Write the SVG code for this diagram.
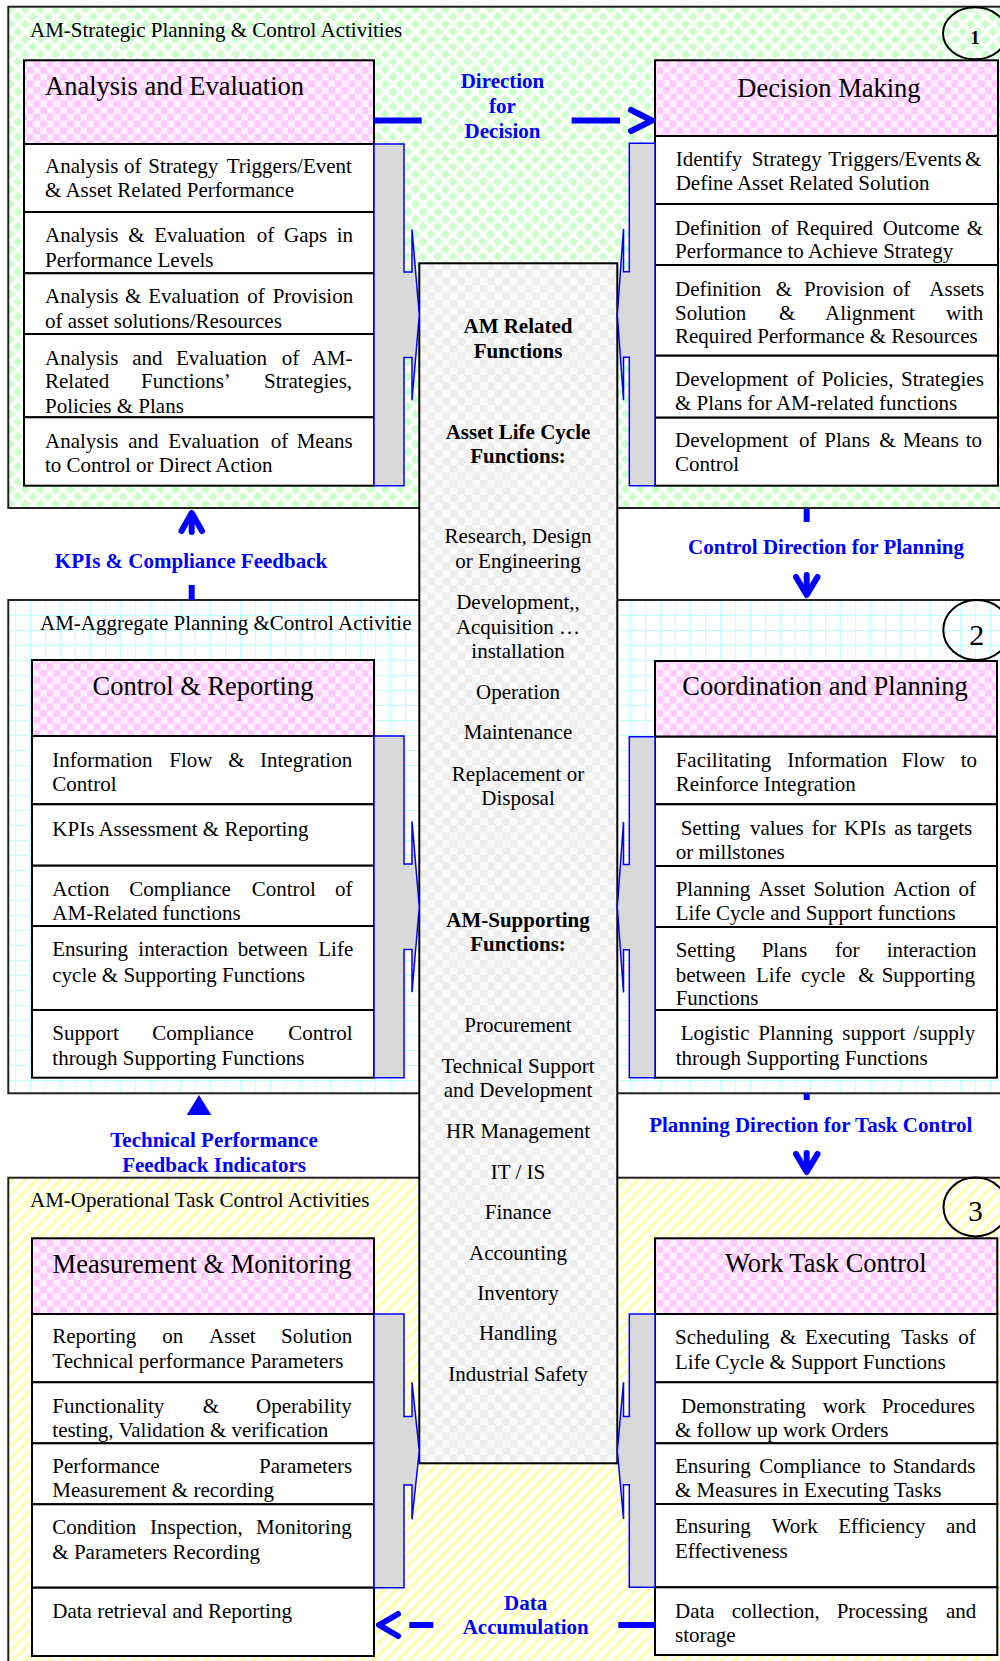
<svg xmlns="http://www.w3.org/2000/svg" width="1000" height="1661" viewBox="0 0 1000 1661">
<style>
.sec{stroke:#222;stroke-width:2}
.box{stroke:#000;stroke-width:2}
.hdr{fill:url(#pPink)}
.row{fill:#fff}
.t{font-family:"Liberation Serif","Times New Roman",serif;font-size:21px;fill:#000}
.h{font-size:26.5px}
.c{text-anchor:middle}
.bd{font-weight:bold}
.bl{fill:#0000ff;font-weight:bold;text-anchor:middle}
.br{fill:#d9d9d9;stroke:#0000ff;stroke-width:1.5}
.arr{stroke:#0000ff;stroke-width:6;fill:none;stroke-linecap:round;stroke-linejoin:round}
.dash{stroke:#0000ff;stroke-width:6;fill:none}
</style>
<defs>
<pattern id="pGreen" width="15" height="15" patternUnits="userSpaceOnUse" x="3" y="1.7">
<rect width="15" height="15" fill="#fff"/>
<path fill="#ccffcc" d="M7.5 2.5L12.5 7.5L7.5 12.5L2.5 7.5Z M0 -5L5 0L0 5L-5 0Z M15 -5L20 0L15 5L10 0Z M0 10L5 15L0 20L-5 15Z M15 10L20 15L15 20L10 15Z"/>
</pattern>
<pattern id="pCyan" width="15" height="15" patternUnits="userSpaceOnUse">
<rect width="15" height="15" fill="#fff"/>
<path d="M0 0.5H15 M0.5 0V15" stroke="#bfffff" stroke-width="1.2"/>
</pattern>
<pattern id="pYellow" width="8.5" height="8.5" patternUnits="userSpaceOnUse" patternTransform="rotate(45)">
<rect width="8.5" height="8.5" fill="#fff"/>
<rect width="3.5" height="8.5" fill="#ffffb0"/>
</pattern>
<pattern id="pPink" width="13.4" height="13.4" patternUnits="userSpaceOnUse">
<rect width="13.4" height="13.4" fill="#fff0ff"/>
<rect width="6.7" height="6.7" fill="#ffc8ff"/>
<rect x="6.7" y="6.7" width="6.7" height="6.7" fill="#ffc8ff"/>
</pattern>
<pattern id="pGrey" width="15" height="15" patternUnits="userSpaceOnUse">
<rect width="15" height="15" fill="#f9f9f9"/>
<rect width="7.5" height="7.5" fill="#ededed"/>
<rect x="7.5" y="7.5" width="7.5" height="7.5" fill="#ededed"/>
</pattern>
</defs>
<rect width="1000" height="1661" fill="#fff"/>

<g id="section-strategic">
<rect class="sec" x="8.3" y="6.7" width="1000" height="501.3" fill="url(#pGreen)"/>
<text class="t" x="30" y="36.7">AM-Strategic Planning &amp; Control Activities</text>
</g>
<g id="section-aggregate">
<rect class="sec" x="8.3" y="600" width="1000" height="493.3" fill="url(#pCyan)"/>
<text class="t" x="40" y="630">AM-Aggregate Planning &amp;Control Activitie</text>
</g>
<g id="section-operational">
<rect class="sec" x="8.3" y="1177.7" width="1000" height="495" fill="url(#pYellow)"/>
<text class="t" x="30" y="1206.7">AM-Operational Task Control Activities</text>
</g>

<g id="am-functions">
<rect x="419.3" y="263.3" width="198" height="1200" fill="url(#pGrey)" stroke="#000" stroke-width="2"/>
<g class="t c">
<text class="bd" x="518" y="333.3">AM Related</text>
<text class="bd" x="518" y="357.7">Functions</text>
<text class="bd" x="518" y="439.3">Asset Life Cycle</text>
<text class="bd" x="518" y="463.3">Functions:</text>
<text x="518" y="543.3">Research, Design</text>
<text x="518" y="568.3">or Engineering</text>
<text x="518" y="609.3">Development,,</text>
<text x="518" y="634.3">Acquisition …</text>
<text x="518" y="658.3">installation</text>
<text x="518" y="699.3">Operation</text>
<text x="518" y="739.3">Maintenance</text>
<text x="518" y="781">Replacement or</text>
<text x="518" y="805">Disposal</text>
<text class="bd" x="518" y="926.7">AM-Supporting</text>
<text class="bd" x="518" y="951">Functions:</text>
<text x="518" y="1031.7">Procurement</text>
<text x="518" y="1072.7">Technical Support</text>
<text x="518" y="1096.7">and Development</text>
<text x="518" y="1138.3">HR Management</text>
<text x="518" y="1179.3">IT / IS</text>
<text x="518" y="1219.3">Finance</text>
<text x="518" y="1260">Accounting</text>
<text x="518" y="1300">Inventory</text>
<text x="518" y="1340">Handling</text>
<text x="518" y="1380.7">Industrial Safety</text>
</g>
</g>

<g id="analysis-evaluation">
<rect class="box hdr" x="24" y="60.3" width="350" height="83.7"/>
<rect class="box row" x="24" y="144" width="350" height="68"/>
<rect class="box row" x="24" y="212" width="350" height="61.3"/>
<rect class="box row" x="24" y="273.3" width="350" height="60.7"/>
<rect class="box row" x="24" y="334" width="350" height="83.3"/>
<rect class="box row" x="24" y="417.3" width="350" height="68.4"/>
<text class="t h" x="45" y="95">Analysis and Evaluation</text>
<text class="t" y="173.3"><tspan x="45">Analysis </tspan><tspan x="124">of </tspan><tspan x="148.3">Strategy </tspan><tspan x="226.7">Triggers/Event</tspan></text>
<text class="t" x="45" y="197.3">&amp; Asset Related Performance</text>
<text class="t" y="241.7"><tspan x="45">Analysis </tspan><tspan x="128.3">&amp; </tspan><tspan x="154.3">Evaluation </tspan><tspan x="256.7">of </tspan><tspan x="284">Gaps </tspan><tspan x="336.7">in</tspan></text>
<text class="t" x="45" y="266.7">Performance Levels</text>
<text class="t" y="303.3"><tspan x="45">Analysis </tspan><tspan x="125">&amp; </tspan><tspan x="148.3">Evaluation </tspan><tspan x="247.3">of </tspan><tspan x="272.7">Provision</tspan></text>
<text class="t" x="45" y="328.3">of asset solutions/Resources</text>
<text class="t" y="365"><tspan x="45">Analysis </tspan><tspan x="132.3">and </tspan><tspan x="176">Evaluation </tspan><tspan x="281.7">of </tspan><tspan x="311.7">AM-</tspan></text>
<text class="t" y="388.3"><tspan x="45">Related </tspan><tspan x="141">Functions’ </tspan><tspan x="264">Strategies,</tspan></text>
<text class="t" x="45" y="413.3">Policies &amp; Plans</text>
<text class="t" y="448.3"><tspan x="45">Analysis </tspan><tspan x="128.3">and </tspan><tspan x="168.3">Evaluation </tspan><tspan x="270.7">of </tspan><tspan x="296.7">Means</tspan></text>
<text class="t" x="45" y="471.7">to Control or Direct Action</text>
<path class="br" d="M374 144 H404 V272.1 H412 V229.4 L419.3 314.85 L412 400.3 V357.6 H404 V485.7 H374 Z"/>
</g>

<g id="decision-making">
<rect class="box hdr" x="655" y="60.3" width="343" height="75.7"/>
<rect class="box row" x="655" y="136" width="343" height="68"/>
<rect class="box row" x="655" y="204" width="343" height="61"/>
<rect class="box row" x="655" y="265" width="343" height="90.7"/>
<rect class="box row" x="655" y="355.7" width="343" height="62"/>
<rect class="box row" x="655" y="417.7" width="343" height="68"/>
<text class="t h c" x="829" y="96.7">Decision Making</text>
<text class="t" y="165.7"><tspan x="675.7">Identify </tspan><tspan x="751.7">Strategy </tspan><tspan x="828.3">Triggers/Events </tspan><tspan x="965">&amp;</tspan></text>
<text class="t" x="675.7" y="190">Define Asset Related Solution</text>
<text class="t" y="235"><tspan x="675">Definition </tspan><tspan x="771">of </tspan><tspan x="796">Required </tspan><tspan x="882.7">Outcome </tspan><tspan x="966.7">&amp;</tspan></text>
<text class="t" x="675" y="258.3">Performance to Achieve Strategy</text>
<text class="t" y="296"><tspan x="675">Definition </tspan><tspan x="775.7">&amp; </tspan><tspan x="804">Provision </tspan><tspan x="892.7">of </tspan><tspan x="929.3">Assets</tspan></text>
<text class="t" y="320"><tspan x="675">Solution </tspan><tspan x="779">&amp; </tspan><tspan x="825">Alignment </tspan><tspan x="946">with</tspan></text>
<text class="t" x="675" y="343.3">Required Performance &amp; Resources</text>
<text class="t" y="386"><tspan x="675">Development </tspan><tspan x="796.7">of </tspan><tspan x="821.7">Policies, </tspan><tspan x="901">Strategies</tspan></text>
<text class="t" x="675" y="410">&amp; Plans for AM-related functions</text>
<text class="t" y="446.7"><tspan x="675">Development </tspan><tspan x="799">of </tspan><tspan x="824.3">Plans </tspan><tspan x="879.3">&amp; </tspan><tspan x="902.7">Means </tspan><tspan x="965.7">to</tspan></text>
<text class="t" x="675" y="471">Control</text>
<path class="br" d="M655 143.3 H629.3 V271.7 H623.5 V228.9 L617.3 314.5 L623.5 400.1 V357.3 H629.3 V485.7 H655 Z"/>
</g>

<g id="control-reporting">
<rect class="box hdr" x="32" y="660" width="342" height="76"/>
<rect class="box row" x="32" y="736" width="342" height="68.3"/>
<rect class="box row" x="32" y="804.3" width="342" height="61.4"/>
<rect class="box row" x="32" y="865.7" width="342" height="60.3"/>
<rect class="box row" x="32" y="926" width="342" height="84"/>
<rect class="box row" x="32" y="1010" width="342" height="67.7"/>
<text class="t h c" x="203" y="695">Control &amp; Reporting</text>
<text class="t" y="766.7"><tspan x="52.3">Information </tspan><tspan x="169.3">Flow </tspan><tspan x="228.3">&amp; </tspan><tspan x="260">Integration</tspan></text>
<text class="t" x="52.3" y="790.7">Control</text>
<text class="t" x="52.3" y="836">KPIs Assessment &amp; Reporting</text>
<text class="t" y="896"><tspan x="52.3">Action </tspan><tspan x="129.3">Compliance </tspan><tspan x="251.7">Control </tspan><tspan x="335">of</tspan></text>
<text class="t" x="52.3" y="920">AM-Related functions</text>
<text class="t" y="956"><tspan x="52.3">Ensuring </tspan><tspan x="138.3">interaction </tspan><tspan x="237.7">between </tspan><tspan x="318.3">Life</tspan></text>
<text class="t" x="52.3" y="981.7">cycle &amp; Supporting Functions</text>
<text class="t" y="1040"><tspan x="52.3">Support </tspan><tspan x="152.3">Compliance </tspan><tspan x="288.3">Control</tspan></text>
<text class="t" x="52.3" y="1065">through Supporting Functions</text>
<path class="br" d="M374 736 H404 V864.1 H412 V821.4 L419.3 906.85 L412 992.3 V949.6 H404 V1077.7 H374 Z"/>
</g>

<g id="coordination-planning">
<rect class="box hdr" x="655" y="661" width="342" height="75.7"/>
<rect class="box row" x="655" y="736.7" width="342" height="67.6"/>
<rect class="box row" x="655" y="804.3" width="342" height="61.7"/>
<rect class="box row" x="655" y="866" width="342" height="61"/>
<rect class="box row" x="655" y="927" width="342" height="83"/>
<rect class="box row" x="655" y="1010" width="342" height="67.7"/>
<text class="t h c" x="825" y="695">Coordination and Planning</text>
<text class="t" y="766.7"><tspan x="675.7">Facilitating </tspan><tspan x="787.3">Information </tspan><tspan x="901.7">Flow </tspan><tspan x="960.7">to</tspan></text>
<text class="t" x="675.7" y="790.7">Reinforce Integration</text>
<text class="t" y="835"><tspan x="680.7">Setting </tspan><tspan x="750">values </tspan><tspan x="811.7">for </tspan><tspan x="844">KPIs </tspan><tspan x="894.3">as </tspan><tspan x="916.7">targets</tspan></text>
<text class="t" x="675.7" y="859">or millstones</text>
<text class="t" y="896"><tspan x="675.7">Planning </tspan><tspan x="758.6">Asset </tspan><tspan x="813.6">Solution </tspan><tspan x="893">Action </tspan><tspan x="958.5">of</tspan></text>
<text class="t" x="675.7" y="920">Life Cycle and Support functions</text>
<text class="t" y="957"><tspan x="675.7">Setting </tspan><tspan x="761.7">Plans </tspan><tspan x="835">for </tspan><tspan x="886.7">interaction</tspan></text>
<text class="t" y="981.7"><tspan x="675.7">between </tspan><tspan x="756">Life </tspan><tspan x="801">cycle </tspan><tspan x="858.3">&amp; </tspan><tspan x="881.7">Supporting</tspan></text>
<text class="t" x="675.7" y="1005">Functions</text>
<text class="t" y="1040"><tspan x="680.7">Logistic </tspan><tspan x="758.3">Planning </tspan><tspan x="842.3">support </tspan><tspan x="913.3">/supply</tspan></text>
<text class="t" x="675.7" y="1065">through Supporting Functions</text>
<path class="br" d="M655 736.7 H629.3 V864.6 H623.5 V822 L617.3 907.2 L623.5 992.5 V949.8 H629.3 V1077.7 H655 Z"/>
</g>

<g id="measurement-monitoring">
<rect class="box hdr" x="32" y="1238.3" width="342" height="75.7"/>
<rect class="box row" x="32" y="1314" width="342" height="68.3"/>
<rect class="box row" x="32" y="1382.3" width="342" height="61"/>
<rect class="box row" x="32" y="1443.3" width="342" height="61"/>
<rect class="box row" x="32" y="1504.3" width="342" height="83.4"/>
<rect class="box row" x="32" y="1587.7" width="342" height="68.3"/>
<text class="t h c" x="202" y="1273.3">Measurement &amp; Monitoring</text>
<text class="t" y="1343.3"><tspan x="52.3">Reporting </tspan><tspan x="162.3">on </tspan><tspan x="209">Asset </tspan><tspan x="281">Solution</tspan></text>
<text class="t" x="52.3" y="1368.3">Technical performance Parameters</text>
<text class="t" y="1412.7"><tspan x="52.3">Functionality </tspan><tspan x="202.7">&amp; </tspan><tspan x="256">Operability</tspan></text>
<text class="t" x="52.3" y="1436.7">testing, Validation &amp; verification</text>
<text class="t" y="1472.7"><tspan x="52.3">Performance </tspan><tspan x="259">Parameters</tspan></text>
<text class="t" x="52.3" y="1497.3">Measurement &amp; recording</text>
<text class="t" y="1534"><tspan x="52.3">Condition </tspan><tspan x="150">Inspection, </tspan><tspan x="256">Monitoring</tspan></text>
<text class="t" x="52.3" y="1559">&amp; Parameters Recording</text>
<text class="t" x="52.3" y="1618.3">Data retrieval and Reporting</text>
<path class="br" d="M374 1314 H404 V1416.6 H412 V1382.4 L419.3 1450.85 L412 1519.3 V1485.1 H404 V1587.7 H374 Z"/>
</g>

<g id="work-task-control">
<rect class="box hdr" x="655" y="1238.3" width="342.3" height="75.7"/>
<rect class="box row" x="655" y="1314" width="342.3" height="68.3"/>
<rect class="box row" x="655" y="1382.3" width="342.3" height="61"/>
<rect class="box row" x="655" y="1443.3" width="342.3" height="60.7"/>
<rect class="box row" x="655" y="1504" width="342.3" height="83.3"/>
<rect class="box row" x="655" y="1587.3" width="342.3" height="67.7"/>
<text class="t h c" x="825.8" y="1271.7">Work Task Control</text>
<text class="t" y="1344"><tspan x="675">Scheduling </tspan><tspan x="780">&amp; </tspan><tspan x="805">Executing </tspan><tspan x="901">Tasks </tspan><tspan x="958.3">of</tspan></text>
<text class="t" x="675" y="1369">Life Cycle &amp; Support Functions</text>
<text class="t" y="1412.7"><tspan x="681">Demonstrating </tspan><tspan x="822.7">work </tspan><tspan x="881.7">Procedures</tspan></text>
<text class="t" x="675" y="1436.7">&amp; follow up work Orders</text>
<text class="t" y="1473.3"><tspan x="675">Ensuring </tspan><tspan x="759.3">Compliance </tspan><tspan x="869.3">to </tspan><tspan x="892.7">Standards</tspan></text>
<text class="t" x="675" y="1497.3">&amp; Measures in Executing Tasks</text>
<text class="t" y="1533.3"><tspan x="675">Ensuring </tspan><tspan x="771.7">Work </tspan><tspan x="838.3">Efficiency </tspan><tspan x="946">and</tspan></text>
<text class="t" x="675" y="1558.3">Effectiveness</text>
<text class="t" y="1618.3"><tspan x="675">Data </tspan><tspan x="731.7">collection, </tspan><tspan x="836.7">Processing </tspan><tspan x="946">and</tspan></text>
<text class="t" x="675" y="1641.7">storage</text>
<path class="br" d="M655 1314 H629.3 V1416.5 H623.5 V1382.3 L617.3 1450.65 L623.5 1519 V1484.8 H629.3 V1587.3 H655 Z"/>
</g>

<g id="level-markers">
<ellipse cx="975" cy="33.3" rx="32" ry="26" fill="none" stroke="#000" stroke-width="2"/>
<text class="t bd c" x="975" y="44.3" style="font-size:19px">1</text>
<ellipse cx="976.7" cy="630" rx="33.4" ry="30" fill="none" stroke="#000" stroke-width="2"/>
<text class="t c" x="976.7" y="645" style="font-size:30px">2</text>
<ellipse cx="975.5" cy="1207" rx="32" ry="29.5" fill="none" stroke="#000" stroke-width="2"/>
<text class="t c" x="975.5" y="1220.7" style="font-size:29px">3</text>
</g>

<g id="connectors">
<path class="dash" d="M374 120.5 H421.7 M571.7 120.5 H620"/>
<polyline class="arr" points="631,110 652,120.5 631,131"/>
<path class="dash" stroke-width="5" d="M191.7 585 V600"/>
<polyline class="arr" points="181.5,531 191.7,513 202,531"/>
<path class="arr" d="M191.7 514 V532"/>
<path class="dash" d="M806.7 509 V522"/>
<polyline class="arr" points="796,577 806.7,595 817.5,577"/>
<path class="arr" d="M806.7 575 V594"/>
<polygon points="186.7,1115 199,1095 211.3,1115" fill="#0000ff"/>
<path class="dash" d="M806.7 1093.3 V1100"/>
<polyline class="arr" points="796,1154 806.7,1172 817.5,1154"/>
<path class="arr" d="M806.7 1153 V1171"/>
<path class="dash" d="M618.3 1625 H655 M409.3 1625 H433.3"/>
<polyline class="arr" points="398,1614 379,1625 398,1636"/>
</g>

<g id="connector-labels" class="t">
<text class="bl" x="502.5" y="88">Direction</text>
<text class="bl" x="502.5" y="113">for</text>
<text class="bl" x="502.5" y="138">Decision</text>
<text class="bl" x="191" y="568.3">KPIs &amp; Compliance Feedback</text>
<text class="bl" x="826" y="554">Control Direction for Planning</text>
<text class="bl" x="214" y="1146.7">Technical Performance</text>
<text class="bl" x="214" y="1171.7">Feedback Indicators</text>
<text class="bl" x="810.8" y="1131.7">Planning Direction for Task Control</text>
<text class="bl" x="525.7" y="1610">Data</text>
<text class="bl" x="525.7" y="1634">Accumulation</text>
</g>
</svg>
